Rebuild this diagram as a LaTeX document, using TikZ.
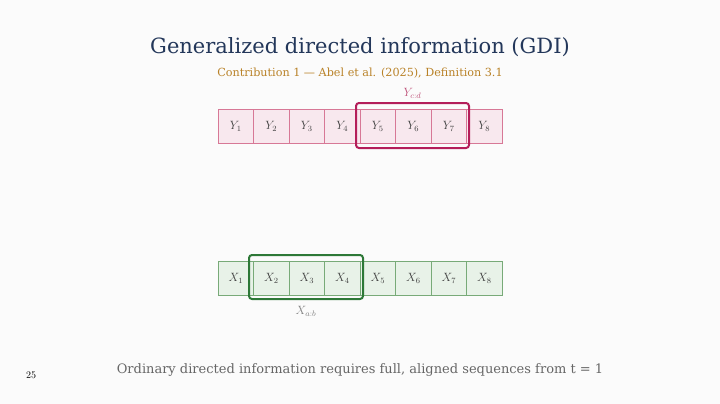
\documentclass[tikz,border=0pt]{standalone}
\usepackage{fontspec}
\newfontfamily\titlefont{DejaVu Serif}
\newfontfamily\sansf{DejaVu Serif}
\definecolor{ydraw}{RGB}{215,120,150}
\definecolor{yfill}{RGB}{248,232,238}
\definecolor{xdraw}{RGB}{120,170,120}
\definecolor{xfill}{RGB}{232,242,232}
\definecolor{yhi}{RGB}{180,30,90}
\definecolor{xhi}{RGB}{45,120,55}
\definecolor{titlec}{RGB}{35,55,90}
\definecolor{subc}{RGB}{185,130,40}
\definecolor{ylabc}{RGB}{190,80,120}
\begin{document}
\begin{tikzpicture}[x=1pt,y=-1pt,
  ycell/.style={draw=ydraw, fill=yfill, minimum width=35.5pt, minimum height=34pt, inner sep=0, line width=0.8pt, text=black!75, font=\large},
  xcell/.style={draw=xdraw, fill=xfill, minimum width=35.5pt, minimum height=34pt, inner sep=0, line width=0.8pt, text=black!75, font=\large},
  ybox/.style={draw=yhi, line width=2pt, rounded corners=3pt},
  xbox/.style={draw=xhi, line width=2pt, rounded corners=3pt}]
\fill[white!97!gray] (0,0) rectangle (720,404);
\useasboundingbox (0,0) rectangle (720,404);
\node (title) at (360,47) {\titlefont\fontsize{21}{25}\selectfont\color{titlec}Generalized directed information (GDI)};
\node (sub) at (360,73) {\sansf\fontsize{11.2}{13}\selectfont\color{subc}Contribution 1 — Abel et al. (2025), Definition 3.1};
\foreach \i in {1,...,8}{
  \node[ycell] (y\i) at ({218+35.5*(\i-0.5)},126) {$Y_{\i}$};
  \node[xcell] (x\i) at ({218+35.5*(\i-0.5)},278) {$X_{\i}$};
}
\draw[ybox] (356,103) rectangle (469,148);
\draw[xbox] (249,255) rectangle (363,299);
\node[font=\large] (ylab) at (412.5,93) {\color{ylabc}$Y_{c:d}$};
\node[font=\large] (xlab) at (306,311) {\color{black!50}$X_{a:b}$};
\node (pg) at (31,375) {\fontsize{10}{11}\selectfont 25};
\node (foot) at (360,370) {\sansf\fontsize{13}{15}\selectfont\color{black!60}Ordinary directed information requires full, aligned sequences from t = 1};
\end{tikzpicture}
\end{document}
